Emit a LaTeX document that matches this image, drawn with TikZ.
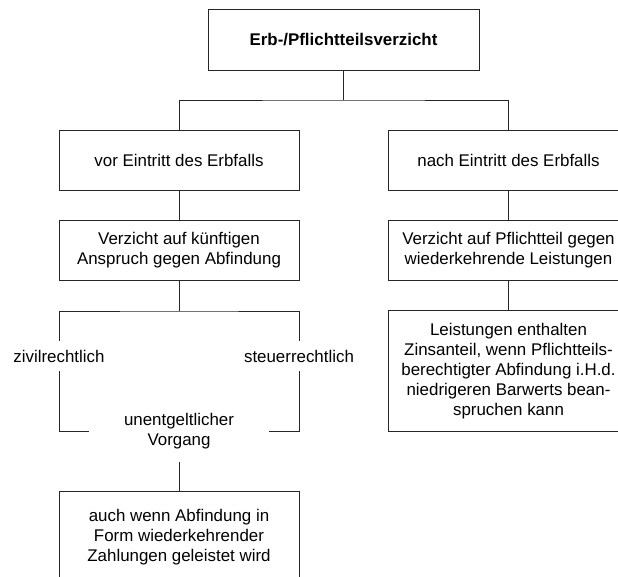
\documentclass[tikz,border=0pt]{standalone}
\usepackage{fontspec}
\setmainfont{Liberation Sans}
\begin{document}
\begin{tikzpicture}[x=1pt,y=-1pt,
  txt/.style={font=\fontsize{16.9}{20}\selectfont},
  box/.style={txt, draw=black!85, line width=1pt, align=center, inner sep=0pt},
  lbl/.style={txt, align=center, inner sep=0pt},
  link/.style={draw=black!85, line width=1pt}]
\useasboundingbox (0,0) rectangle (618,576);

% boxes
\node[box, minimum width=271pt, minimum height=61pt,
      font=\fontsize{16.9}{20}\selectfont\bfseries] (root) at (343.5,39.7) {Erb-/Pflichtteilsverzicht};
\node[box, minimum width=240pt, minimum height=60pt] (vor) at (179,160) {vor Eintritt des Erbfalls};
\node[box, minimum width=241pt, minimum height=60pt] (nach) at (508.5,160) {nach Eintritt des Erbfalls};
\node[box, minimum width=240pt, minimum height=60pt] (kuenftig) at (179,250) {Verzicht auf künftigen\\Anspruch gegen Abfindung};
\node[box, minimum width=241pt, minimum height=60pt] (pflicht) at (508.5,250) {Verzicht auf Pflichtteil gegen\\wiederkehrende Leistungen};
\node[box, minimum width=241pt, minimum height=120.5pt] (leist) at (508.5,371) {Leistungen enthalten\\Zinsanteil, wenn Pflichtteils-\\berechtigter Abfindung i.H.d.\\niedrigeren Barwerts bean-\\spruchen kann};
\node[box, minimum width=240pt, minimum height=92pt] (abf) at (179,537) {auch wenn Abfindung in\\Form wiederkehrender\\Zahlungen geleistet wird};

% labels on the branch lines
\node[lbl, minimum height=30pt] (zivil) at (59,356) {zivilrechtlich};
\node[lbl, minimum height=30pt] (steuer) at (299,356) {steuerrechtlich};
\node[lbl, minimum width=180pt, minimum height=60pt] (unent) at (179,431.5) {unentgeltlicher\\Vorgang};

% connectors
\coordinate (fork) at (343.5,100);
\coordinate (split) at (179,311);
\draw[link] (root.south) -- (fork);
\draw[link] (vor.north) |- (fork) -| (nach.north);
\draw[link] (vor.south) -- (kuenftig.north);
\draw[link] (nach.south) -- (pflicht.north);
\draw[link] (pflicht.south) -- (leist.north);
\draw[link] (kuenftig.south) -- (split);
\draw[link] (zivil.north) |- (split) -| (steuer.north);
\draw[link] (zivil.south) |- (unent.west);
\draw[link] (steuer.south) |- (unent.east);
\draw[link] (unent.south) -- (abf.north);
\end{tikzpicture}
\end{document}
